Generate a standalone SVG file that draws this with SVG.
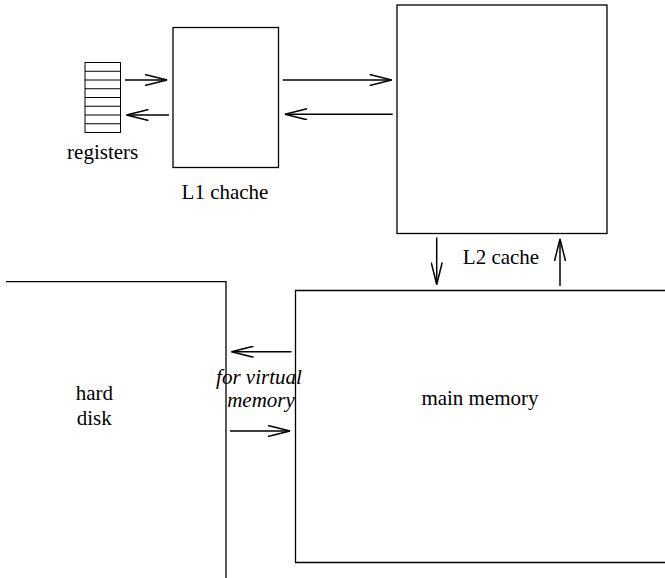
<svg xmlns="http://www.w3.org/2000/svg" width="665" height="578" viewBox="0 0 665 578">
<style>
.box{fill:none;stroke:#000;stroke-width:1.3}
.reg{fill:none;stroke:#000;stroke-width:1}
.arr{fill:none;stroke:#000;stroke-width:1.5;marker-end:url(#ah)}
text{font-family:"Liberation Serif","Times New Roman",serif;font-size:21px;fill:#000}
.it{font-style:italic}
</style>
<defs>
<marker id="ah" markerUnits="userSpaceOnUse" viewBox="0 0 24 12" refX="23" refY="6" markerWidth="24" markerHeight="12" orient="auto">
<path d="M1,0.5 L23,6 L1,11.5" fill="none" stroke="#000" stroke-width="1.5"/>
</marker>
</defs>
<rect width="665" height="578" fill="#fff"/>
<g id="registers">
<rect class="reg" x="85" y="62.5" width="35.5" height="70"/>
<path class="reg" d="M85,71.25H120.5M85,80H120.5M85,88.75H120.5M85,97.5H120.5M85,106.25H120.5M85,115H120.5M85,123.75H120.5"/>
<text x="102.7" y="158.5" text-anchor="middle">registers</text>
</g>
<g id="l1">
<rect class="box" x="173" y="27.5" width="105.5" height="140"/>
<text x="225" y="198.5" text-anchor="middle">L1 chache</text>
</g>
<g id="l2">
<rect class="box" x="397" y="5" width="210" height="228.5"/>
<text x="501" y="263.5" text-anchor="middle">L2 cache</text>
</g>
<g id="mainmem">
<path class="box" d="M666,290.5H295.5V562.5H666"/>
<text x="480" y="405" text-anchor="middle">main memory</text>
</g>
<g id="harddisk">
<path class="box" d="M6,281.7H226V578"/>
<text x="94.3" y="400" text-anchor="middle">hard</text>
<text x="94.3" y="425" text-anchor="middle">disk</text>
</g>
<g id="vmlabel">
<text class="it" x="259" y="383.5" text-anchor="middle">for virtual</text>
<text class="it" x="261" y="406.5" text-anchor="middle">memory</text>
</g>
<g id="connectors">
<line class="arr" x1="125" y1="80" x2="167" y2="80"/>
<line class="arr" x1="169" y1="115" x2="126.5" y2="115"/>
<line class="arr" x1="282.7" y1="80" x2="391.7" y2="80"/>
<line class="arr" x1="392.7" y1="114.3" x2="285" y2="114.3"/>
<line class="arr" x1="436.7" y1="237.5" x2="436.7" y2="284.5"/>
<line class="arr" x1="560" y1="286" x2="560" y2="239"/>
<line class="arr" x1="291.5" y1="351.7" x2="231.5" y2="351.7"/>
<line class="arr" x1="230" y1="431" x2="290" y2="431"/>
</g>
</svg>
